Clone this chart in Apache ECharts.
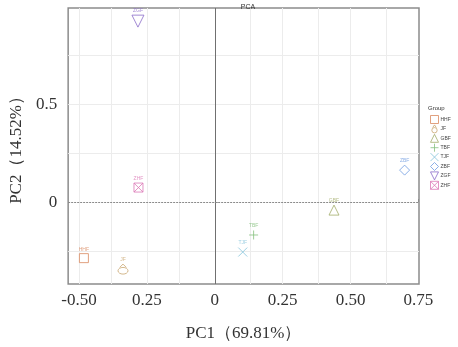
<!DOCTYPE html>
<html>
<head>
<meta charset="utf-8">
<script src="https://cdn.jsdelivr.net/npm/echarts@6/dist/echarts.min.js"></script>
<style>
  html, body { margin: 0; padding: 0; background: #fff; }
  #chart { width: 458px; height: 347px; }
</style>
</head>
<body>
<div id="chart"></div>
<script>
// PCA scores per group
const groups = ['HHF', 'JF', 'GBF', 'TBF', 'TJF', 'ZBF', 'ZGF', 'ZHF'];
const pc1 = [-0.482, -0.338, 0.439, 0.143, 0.103, 0.699, -0.283, -0.281];
const pc2 = [-0.286, -0.342, -0.041, -0.168, -0.255, 0.163, 0.923, 0.074];

// axis ticks
const xTickValues = [-0.5, -0.25, 0, 0.25, 0.5, 0.75];
const xTickLabels = ['-0.50', '0.25', '0', '0.25', '0.50', '0.75'];
const yTickValues = [0.5, 0];
const yTickLabels = ['0.5', '0'];
const xGridValues = [-0.5, -0.375, -0.25, -0.125, 0.125, 0.25, 0.375, 0.5, 0.625];
const yGridValues = [0.75, 0.5, 0.25, -0.25];

const colors = ['#d98a60', '#c9a670', '#a3ac6a', '#86c07e', '#86c4dc', '#6f9be0', '#8b6cc9', '#dc79b6'];
const symbols = [
  'rect',
  'path://M2,6.5A3,3,0,1,0,8,6.5A3,3,0,1,0,2,6.5ZM3,3.5L5,0.5L7,3.5',
  'triangle',
  'path://M5,0L5,10M0,5L10,5',
  'path://M0,0L10,10M10,0L0,10',
  'diamond',
  'path://M0,0L10,0L5,10Z',
  'path://M0,0L10,0L10,10L0,10ZM0,0L10,10M10,0L0,10'
];
const sizes = [9, 10, 10, 9, 9, 10, 12, 9];
const hollow = c => ({ color: 'rgba(255,255,255,0)', borderColor: c, borderWidth: 1 });

const chart = echarts.init(document.getElementById('chart'), null, { renderer: 'canvas' });

const series = groups.map((g, i) => ({
  name: g,
  type: 'scatter',
  data: [[pc1[i], pc2[i]]],
  symbol: symbols[i],
  symbolSize: sizes[i],
  itemStyle: hollow(colors[i]),
  label: {
    show: true, position: 'top', distance: 1.5, formatter: g,
    fontSize: 5, color: colors[i], fontFamily: 'Liberation Sans'
  },
  z: 5
}));

// background grid lines and zero lines
series.push({
  type: 'scatter',
  data: [],
  silent: true,
  z: 1,
  markLine: {
    silent: true,
    symbol: 'none',
    label: { show: false },
    animation: false,
    data: [
      ...xGridValues.map(v => ({ xAxis: v, lineStyle: { color: '#ececec', width: 1, type: 'solid' } })),
      ...yGridValues.map(v => ({ yAxis: v, lineStyle: { color: '#ececec', width: 1, type: 'solid' } })),
      { xAxis: 0, lineStyle: { color: '#707070', width: 1, type: 'solid' } },
      { yAxis: 0, lineStyle: { color: '#8a8a8a', width: 1, type: [2, 1] } }
    ]
  }
});

chart.setOption({
  animation: false,
  backgroundColor: '#fff',
  title: {
    text: 'PCA', left: 243, top: -1, textAlign: 'center',
    textStyle: { fontSize: 7, fontWeight: 'normal', color: '#333', fontFamily: 'Liberation Sans' }
  },
  graphic: [{
    type: 'text', left: 428, top: 105,
    style: { text: 'Group', fontSize: 6, fill: '#333', fontFamily: 'Liberation Sans' }
  }],
  legend: {
    orient: 'vertical', left: 430, top: 115, padding: 0,
    itemWidth: 8, itemHeight: 8, itemGap: 0.4,
    data: groups.map((g, i) => ({ name: g, icon: symbols[i], itemStyle: hollow(colors[i]) })),
    textStyle: { fontSize: 5, lineHeight: 7, color: '#444', fontFamily: 'Liberation Sans', padding: [0, 0, 0, -3] }
  },
  grid: {
    left: 67, right: 39, top: 8, bottom: 63,
    show: true, borderColor: '#8c8c8c', borderWidth: 1.5, backgroundColor: 'transparent'
  },
  xAxis: {
    type: 'value', min: -0.540, max: 0.752,
    name: 'PC1（69.81%）', nameLocation: 'middle', nameGap: 41,
    nameTextStyle: { fontSize: 17, color: '#333', fontFamily: 'Liberation Serif' },
    axisLine: { show: false },
    splitLine: { show: false },
    axisTick: { show: true, inside: true, length: 3, customValues: xTickValues, lineStyle: { color: '#8c8c8c' } },
    axisLabel: {
      customValues: xTickValues, margin: 8,
      fontSize: 17, color: '#333', fontFamily: 'Liberation Serif',
      formatter: v => {
        const k = xTickValues.findIndex(t => Math.abs(t - v) < 1e-9);
        return k >= 0 ? xTickLabels[k] : '';
      }
    }
  },
  yAxis: {
    type: 'value', min: -0.418, max: 0.990,
    name: 'PC2（14.52%）', nameLocation: 'middle', nameGap: 42,
    nameTextStyle: { fontSize: 17, color: '#333', fontFamily: 'Liberation Serif' },
    axisLine: { show: false },
    splitLine: { show: false },
    axisTick: { show: true, inside: true, length: 3, customValues: yTickValues, lineStyle: { color: '#8c8c8c' } },
    axisLabel: {
      customValues: yTickValues, margin: 11,
      fontSize: 17, color: '#333', fontFamily: 'Liberation Serif',
      formatter: v => {
        const k = yTickValues.findIndex(t => Math.abs(t - v) < 1e-9);
        return k >= 0 ? yTickLabels[k] : '';
      }
    }
  },
  series: series
});
</script>
</body>
</html>
